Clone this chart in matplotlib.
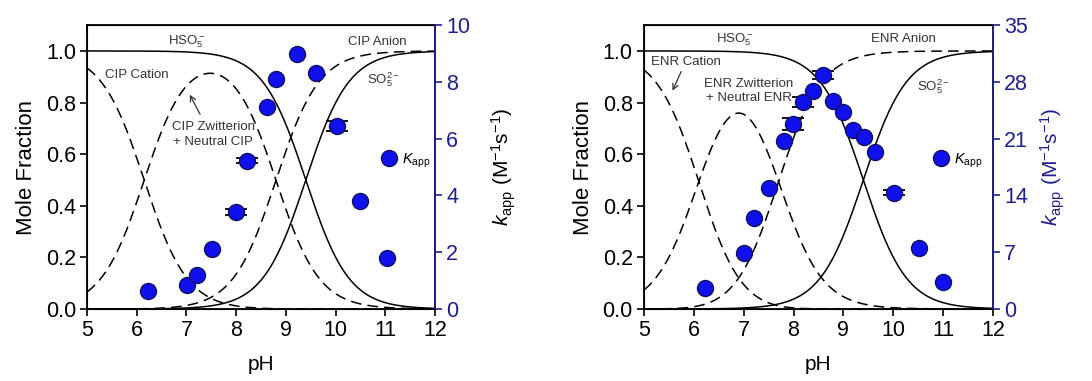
import numpy as np
import matplotlib.pyplot as plt
from matplotlib.lines import Line2D

plt.rcParams['font.family'] = ['Liberation Sans', 'DejaVu Sans']
plt.rcParams['mathtext.fontset'] = 'custom'
plt.rcParams['mathtext.rm'] = 'Liberation Sans'
plt.rcParams['mathtext.it'] = 'Liberation Sans:italic'

pka_pms = 9.4
pka_cip = [6.15, 8.8]
pka_enr = [6.1, 7.7]

# CIP k_app data (M^-1 s^-1)
ph_cip = [6.22, 7.02, 7.22, 7.51, 8.0, 8.21, 8.61, 8.8, 9.22, 9.61, 10.02, 10.49, 11.03]
k_cip = [0.62, 0.86, 1.21, 2.11, 3.42, 5.23, 7.13, 8.11, 9.0, 8.32, 6.45, 3.79, 1.79]
err_cip = [0, 0, 0, 0, 0.1, 0.1, 0, 0, 0, 0, 0.18, 0, 0]

# ENR k_app data (M^-1 s^-1)
ph_enr = [6.22, 7.01, 7.2, 7.51, 7.8, 7.99, 8.2, 8.4, 8.59, 8.79, 9.0, 9.2, 9.42, 9.63, 10.01, 10.51, 11.0]
k_enr = [2.59, 6.89, 11.28, 14.98, 20.76, 22.77, 25.56, 26.92, 28.85, 25.69, 24.25, 22.08, 21.26, 19.41, 14.36, 7.51, 3.28]
err_enr = [0, 0, 0, 0, 0, 0.75, 0.6, 0, 0.5, 0, 0, 0, 0, 0, 0.35, 0, 0]

navy = '#1f1f8f'
blue = '#1010ee'
txt = '#333333'

ph = np.linspace(5, 12, 400)


def fractions(pka):
    h1 = 10 ** (ph - pka[0])
    h2 = 10 ** (2 * ph - pka[0] - pka[1])
    d = 1 + h1 + h2
    return 1 / d, h1 / d, h2 / d


fig = plt.figure(figsize=(10.92, 3.81), dpi=100)
ax_l = fig.add_axes([0.0797, 0.189, 0.3187, 0.745])
ax_r = fig.add_axes([0.5897, 0.189, 0.3196, 0.745])

panels = [
    (ax_l, pka_cip, ph_cip, k_cip, err_cip, 10, [0, 2, 4, 6, 8, 10], 'black', 0.826, 14),
    (ax_r, pka_enr, ph_enr, k_enr, err_enr, 35, [0, 7, 14, 21, 28, 35], navy, 0.81, 8),
]

for ax, pka, px, ky, ke, kmax, kticks, klab_col, leg_x, kpad in panels:
    hso5 = 1 / (1 + 10 ** (ph - pka_pms))
    ax.plot(ph, hso5, color='black', lw=1.1)
    ax.plot(ph, 1 - hso5, color='black', lw=1.1)
    for f in fractions(pka):
        ax.plot(ph, f, color='black', lw=1.1, dashes=(7, 4))
    ax.set_xlim(5, 12)
    ax.set_ylim(0, 1.1)
    ax.set_xticks(range(5, 13))
    ax.set_yticks(np.arange(0, 1.01, 0.2))
    ax.set_yticklabels(['%.1f' % v for v in np.arange(0, 1.01, 0.2)])
    ax.tick_params(direction='out', length=5, width=1.2, labelsize=15.5, pad=3)
    ax.set_xlabel('pH', fontsize=15, labelpad=10)
    ax.set_ylabel('Mole Fraction', fontsize=16, labelpad=6)
    for s in ax.spines.values():
        s.set_linewidth(1.3)

    ax2 = ax.twinx()
    sel = [i for i, e in enumerate(ke) if e > 0]
    ax2.errorbar([px[i] for i in sel], [ky[i] for i in sel], yerr=[ke[i] for i in sel],
                 fmt='none', ecolor='black', elinewidth=1, capsize=8, capthick=1.3, zorder=4)
    ax2.plot(px, ky, 'o', ms=11.5, mfc=blue, mec='#101060', mew=1, zorder=5)
    ax2.set_ylim(0, kmax)
    ax2.set_yticks(kticks)
    ax2.tick_params(direction='out', length=5, width=1.2, labelsize=15.5, colors=navy, pad=3)
    ax2.spines['right'].set_color(navy)
    ax2.spines['right'].set_linewidth(1.3)
    ax2.set_ylabel(r'$k_{\mathrm{app}}$ (M$^{-1}$s$^{-1}$)', fontsize=15, color=klab_col, labelpad=kpad)
    h = Line2D([], [], ls='none', marker='o', ms=11.5, mfc=blue, mec='#101060')
    ax2.legend([h], [r'$K_{\mathrm{app}}$'], loc='center left', frameon=False,
               bbox_to_anchor=(leg_x, 0.522), borderpad=0,
               handlelength=1, handletextpad=0.4, fontsize=10.5)

# CIP annotations
ax_l.text(7.0, 1.036, r'HSO$_5^-$', ha='center', va='center', fontsize=9.5, color=txt)
ax_l.text(10.83, 1.033, 'CIP Anion', ha='center', va='center', fontsize=9.5, color=txt)
ax_l.text(6.0, 0.907, 'CIP Cation', ha='center', va='center', fontsize=9.5, color=txt)
ax_l.text(10.96, 0.89, r'SO$_5^{2-}$', ha='center', va='center', fontsize=9.5, color=txt)
ax_l.text(7.54, 0.676, 'CIP Zwitterion\n+ Neutral CIP', ha='center', va='center',
          fontsize=9.5, color=txt, linespacing=1.3)
ax_l.annotate('', xy=(7.04, 0.84), xytext=(7.3, 0.745),
              arrowprops=dict(arrowstyle='->', color=txt, lw=0.9))

# ENR annotations
ax_r.text(6.82, 1.043, r'HSO$_5^-$', ha='center', va='center', fontsize=9.5, color=txt)
ax_r.text(10.2, 1.045, 'ENR Anion', ha='center', va='center', fontsize=9.5, color=txt)
ax_r.text(5.85, 0.956, 'ENR Cation', ha='center', va='center', fontsize=9.5, color=txt)
ax_r.text(10.8, 0.86, r'SO$_5^{2-}$', ha='center', va='center', fontsize=9.5, color=txt)
ax_r.text(7.1, 0.845, 'ENR Zwitterion\n+ Neutral ENR', ha='center', va='center',
          fontsize=9.5, color=txt, linespacing=1.3)
ax_r.annotate('', xy=(5.55, 0.836), xytext=(5.77, 0.93),
              arrowprops=dict(arrowstyle='->', color=txt, lw=0.9))

fig.savefig('out.png', dpi=100)
